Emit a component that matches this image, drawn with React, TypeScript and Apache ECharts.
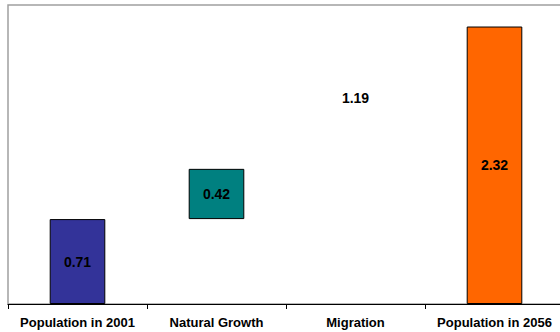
import React, { useEffect, useRef } from "react";
import * as echarts from "echarts";

const categories = ["Population in 2001", "Natural Growth", "Migration", "Population in 2056"];
const baseValues = [0, 0.71, 1.13, 0];
const deltaValues = [0.71, 0.42, 1.19, 2.32];
const barColors = ["#333399", "#008080", "transparent", "#FF6600"];
const barBorders = ["#000000", "#000000", "transparent", "#000000"];

export default function App() {
  const ref = useRef<HTMLDivElement>(null);
  useEffect(() => {
    if (!ref.current) return;
    const chart = echarts.init(ref.current, undefined, { renderer: "svg" });
    chart.setOption({
      animation: false,
      backgroundColor: "#ffffff",
      grid: {
        left: 8,
        top: 5,
        bottom: 28,
        right: -4,
        outerBoundsMode: "none",
        containLabel: false,
        show: true,
        borderColor: "#a0a0a0",
        borderWidth: 1.5,
      },
      xAxis: {
        type: "category",
        data: categories,
        axisLine: { lineStyle: { color: "#000", width: 1 } },
        axisTick: { show: true, length: 5, lineStyle: { color: "#000" } },
        axisLabel: {
          color: "#000",
          fontFamily: "Liberation Sans, Arial, sans-serif",
          fontWeight: "bold",
          fontSize: 13,
          margin: 12,
          interval: 0,
        },
      },
      yAxis: {
        type: "value",
        min: 0,
        max: 2.5,
        show: false,
        splitLine: { show: false },
      },
      series: [
        {
          type: "bar",
          stack: "w",
          data: baseValues,
          itemStyle: { color: "transparent" },
          barWidth: "40%",
          silent: true,
        },
        {
          type: "bar",
          stack: "w",
          barWidth: "40%",
          data: deltaValues.map((v, i) => ({
            value: v,
            itemStyle: { color: barColors[i], borderColor: barBorders[i], borderWidth: 1 },
          })),
          label: {
            show: true,
            position: "inside",
            color: "#000",
            fontFamily: "Liberation Sans, Arial, sans-serif",
            fontWeight: "bold",
            fontSize: 14,
            formatter: (p: any) => Number(p.value).toFixed(2),
          },
        },
      ],
    });
    return () => chart.dispose();
  }, []);
  return (
    <div
      ref={ref}
      style={{ position: "absolute", left: 0, top: 0, width: 560, height: 332, overflow: "hidden" }}
    />
  );
}
